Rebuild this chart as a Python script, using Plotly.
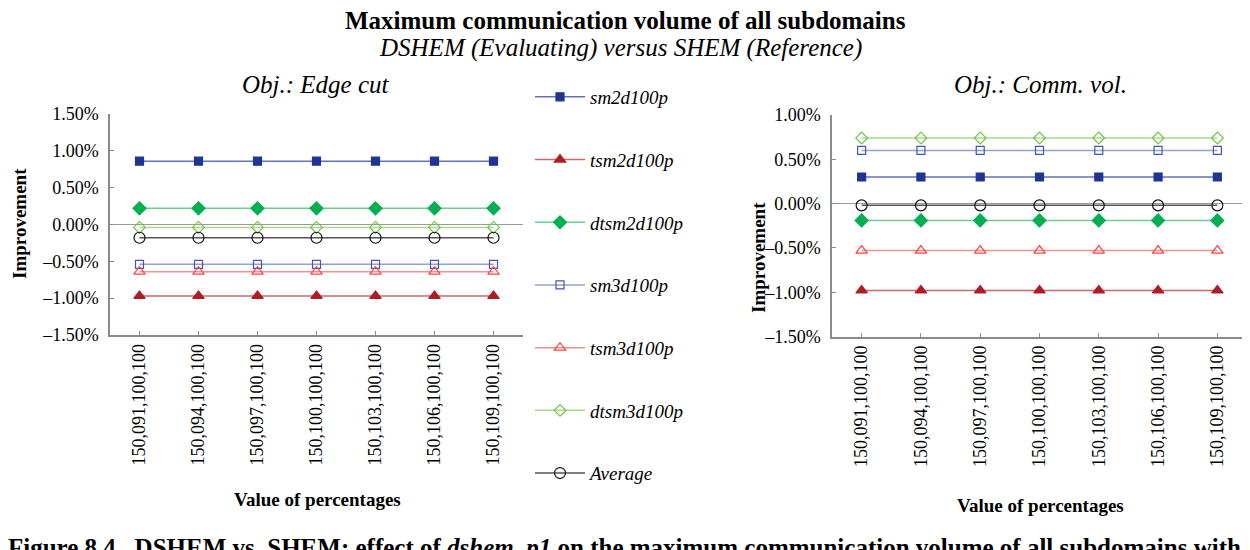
import plotly.graph_objects as go

# ---------------- data ----------------
categories = ["150,091,100,100", "150,094,100,100", "150,097,100,100", "150,100,100,100",
              "150,103,100,100", "150,106,100,100", "150,109,100,100"]

series_names = ["sm2d100p", "tsm2d100p", "dtsm2d100p", "sm3d100p", "tsm3d100p", "dtsm3d100p", "Average"]

# Obj.: Edge cut  (improvement, %)
edge_sm2d100p = [0.86, 0.86, 0.86, 0.86, 0.86, 0.86, 0.86]
edge_tsm2d100p = [-0.97, -0.97, -0.97, -0.97, -0.97, -0.97, -0.97]
edge_dtsm2d100p = [0.22, 0.22, 0.22, 0.22, 0.22, 0.22, 0.22]
edge_sm3d100p = [-0.54, -0.54, -0.54, -0.54, -0.54, -0.54, -0.54]
edge_tsm3d100p = [-0.64, -0.64, -0.64, -0.64, -0.64, -0.64, -0.64]
edge_dtsm3d100p = [-0.04, -0.04, -0.04, -0.04, -0.04, -0.04, -0.04]
edge_average = [-0.18, -0.18, -0.18, -0.18, -0.18, -0.18, -0.18]

# Obj.: Comm. vol.  (improvement, %)
comm_sm2d100p = [0.30, 0.30, 0.30, 0.30, 0.30, 0.30, 0.30]
comm_tsm2d100p = [-0.98, -0.98, -0.98, -0.98, -0.98, -0.98, -0.98]
comm_dtsm2d100p = [-0.19, -0.19, -0.19, -0.19, -0.19, -0.19, -0.19]
comm_sm3d100p = [0.60, 0.60, 0.60, 0.60, 0.60, 0.60, 0.60]
comm_tsm3d100p = [-0.53, -0.53, -0.53, -0.53, -0.53, -0.53, -0.53]
comm_dtsm3d100p = [0.74, 0.74, 0.74, 0.74, 0.74, 0.74, 0.74]
comm_average = [-0.02, -0.02, -0.02, -0.02, -0.02, -0.02, -0.02]

left_ticks = [-1.5, -1.0, -0.5, 0.0, 0.5, 1.0, 1.5]
left_ticktext = ["–1.50%", "–1.00%", "–0.50%", "0.00%", "0.50%", "1.00%", "1.50%"]
right_ticks = [-1.5, -1.0, -0.5, 0.0, 0.5, 1.0]
right_ticktext = ["–1.50%", "–1.00%", "–0.50%", "0.00%", "0.50%", "1.00%"]

# ---------------- styles ----------------
FONT = "Liberation Serif, Times New Roman, serif"
styles = [
    dict(symbol="square", size=8, mcolor="#1f3591", lcolor="#6272bb"),
    dict(symbol="triangle-up", size=10, mcolor="#b01c24", lcolor="#cc6a6a"),
    dict(symbol="diamond", size=10, mcolor="#00b050", lcolor="#6ccf92"),
    dict(symbol="square-open", size=8, mcolor="#4356b2", lcolor="#95a0d4"),
    dict(symbol="triangle-up-open", size=10, mcolor="#ff4343", lcolor="#f39090"),
    dict(symbol="diamond-open", size=9, mcolor="#72c445", lcolor="#a6da8c"),
    dict(symbol="circle-open", size=11, mcolor="#111111", lcolor="#555555"),
]

edge_series = [edge_sm2d100p, edge_tsm2d100p, edge_dtsm2d100p, edge_sm3d100p,
               edge_tsm3d100p, edge_dtsm3d100p, edge_average]
comm_series = [comm_sm2d100p, comm_tsm2d100p, comm_dtsm2d100p, comm_sm3d100p,
               comm_tsm3d100p, comm_dtsm3d100p, comm_average]

fig = go.Figure()
for name, st, vals in zip(series_names, styles, edge_series):
    fig.add_trace(go.Scatter(
        x=categories, y=vals, name=name, mode="lines+markers",
        legendgroup=name, showlegend=True,
        line=dict(color=st["lcolor"], width=1.5),
        marker=dict(symbol=st["symbol"], size=st["size"], color=st["mcolor"],
                    line=dict(color=st["mcolor"], width=1.2)),
        xaxis="x", yaxis="y"))
for name, st, vals in zip(series_names, styles, comm_series):
    fig.add_trace(go.Scatter(
        x=categories, y=vals, name=name, mode="lines+markers",
        legendgroup=name, showlegend=False,
        line=dict(color=st["lcolor"], width=1.5),
        marker=dict(symbol=st["symbol"], size=st["size"], color=st["mcolor"],
                    line=dict(color=st["mcolor"], width=1.2)),
        xaxis="x2", yaxis="y2"))

W, H = 1250, 550
OFF = 8  # page body margin of the html page
def px_x(p):
    return (p - OFF) / W
def px_y(p):
    return 1 - (p - OFF) / H

axis_common = dict(showline=True, linecolor="#8a8a8a", linewidth=1.5,
                   ticks="inside", ticklen=4, tickcolor="#8a8a8a",
                   showgrid=False, automargin=False)

fig.update_layout(
    width=W, height=H,
    margin=dict(l=0, r=0, t=0, b=0, autoexpand=False),
    paper_bgcolor="white", plot_bgcolor="white",
    font=dict(family=FONT, color="#000"),
    xaxis=dict(domain=[px_x(110), px_x(523)], anchor="y", type="category",
               range=[-0.5, 6.5], tickangle=-90,
               tickfont=dict(family=FONT, size=18, color="#000"), **axis_common),
    yaxis=dict(domain=[px_y(335), px_y(114)], anchor="x", range=[-1.5, 1.5],
               tickvals=left_ticks, ticktext=left_ticktext,
               zeroline=True, zerolinecolor="#9a9a9a", zerolinewidth=1,
               ticklabelstandoff=6,
               tickfont=dict(family=FONT, size=18, color="#000"), **axis_common),
    xaxis2=dict(domain=[px_x(832), px_x(1247)], anchor="y2", type="category",
                range=[-0.5, 6.5], tickangle=-90,
                tickfont=dict(family=FONT, size=18, color="#000"), **axis_common),
    yaxis2=dict(domain=[px_y(336.5), px_y(115)], anchor="x2", range=[-1.5, 1.0],
                tickvals=right_ticks, ticktext=right_ticktext,
                zeroline=True, zerolinecolor="#9a9a9a", zerolinewidth=1,
                ticklabelstandoff=6,
                tickfont=dict(family=FONT, size=18, color="#000"), **axis_common),
    legend=dict(x=px_x(530), y=px_y(78), xanchor="left", yanchor="top",
                orientation="v", tracegroupgap=35, itemwidth=50,
                font=dict(family=FONT, size=19, style="italic", color="#000"),
                bgcolor="rgba(0,0,0,0)"),
    showlegend=True,
)

annotations = [
    dict(text="<b>Maximum communication volume of all subdomains</b>", x=px_x(625), y=px_y(20),
         font=dict(size=25)),
    dict(text="<i>DSHEM (Evaluating) versus SHEM (Reference)</i>", x=px_x(620), y=px_y(48),
         font=dict(size=25)),
    dict(text="<i>Obj.: Edge cut</i>", x=px_x(316), y=px_y(84), font=dict(size=25)),
    dict(text="<i>Obj.: Comm. vol.</i>", x=px_x(1040), y=px_y(84), font=dict(size=25)),
    dict(text="<b>Improvement</b>", x=px_x(19), y=px_y(224), textangle=-90, font=dict(size=19)),
    dict(text="<b>Improvement</b>", x=px_x(758), y=px_y(258), textangle=-90, font=dict(size=19)),
    dict(text="<b>Value of percentages</b>", x=px_x(317), y=px_y(499), font=dict(size=19)),
    dict(text="<b>Value of percentages</b>", x=px_x(1040), y=px_y(505), font=dict(size=19)),
    dict(text="<b>Figure 8.4.  DSHEM vs. SHEM: effect of <i>dshem_p1</i> on the maximum communication volume of all subdomains with</b>",
         x=px_x(6), y=px_y(532), xanchor="left", yanchor="top", font=dict(size=25)),
]
for a in annotations:
    a.setdefault("xanchor", "center")
    a.setdefault("yanchor", "middle")
    a["xref"] = "paper"
    a["yref"] = "paper"
    a["showarrow"] = False
    f = a.get("font", {})
    f.setdefault("family", FONT)
    f.setdefault("color", "#000")
    a["font"] = f
fig.update_layout(annotations=annotations)

fig.write_html("out.html")
